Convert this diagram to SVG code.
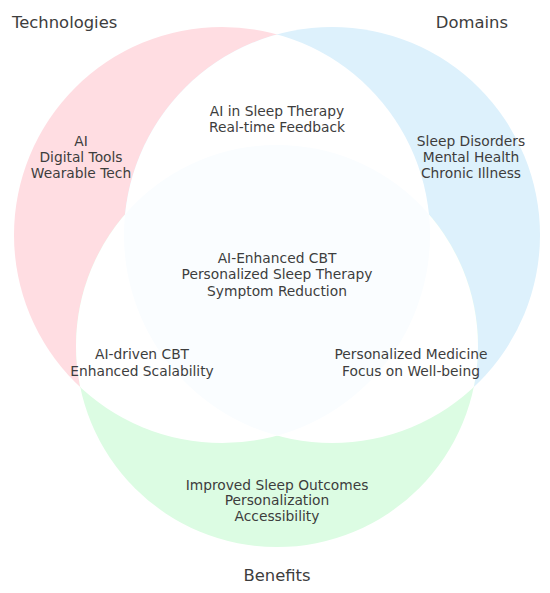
<svg xmlns="http://www.w3.org/2000/svg" width="550" height="593" viewBox="0 0 550 593">
<style>
text{font-family:"DejaVu Sans","Liberation Sans",sans-serif;fill:#3d3d3d;text-anchor:middle}
.lbl{font-size:13.8px}
.title{font-size:16.4px}
</style>
<defs>
<clipPath id="cL"><circle cx="222" cy="235" r="208"/></clipPath>
<clipPath id="cR"><circle cx="332" cy="235" r="208"/></clipPath>
<clipPath id="cB"><circle cx="277" cy="346" r="201"/></clipPath>
</defs>
<rect width="550" height="593" fill="#ffffff"/>
<g id="set-technologies">
<circle cx="222" cy="235" r="208" fill="#ffdde2"/>
</g>
<g id="set-domains">
<circle cx="332" cy="235" r="208" fill="#ddf1fc"/>
</g>
<g id="set-benefits">
<circle cx="277" cy="346" r="201" fill="#dcfce3"/>
</g>
<g id="overlaps">
<circle cx="332" cy="235" r="208" fill="#ffffff" clip-path="url(#cL)"/>
<circle cx="277" cy="346" r="201" fill="#ffffff" clip-path="url(#cL)"/>
<circle cx="277" cy="346" r="201" fill="#ffffff" clip-path="url(#cR)"/>
<g clip-path="url(#cL)"><circle cx="277" cy="346" r="201" fill="#fafdff" clip-path="url(#cR)"/></g>
</g>
<g id="connectors"></g>
<g id="titles">
<text class="title" x="12" y="28" style="text-anchor:start">Technologies</text>
<text class="title" x="508" y="28" style="text-anchor:end">Domains</text>
<text class="title" x="277" y="581">Benefits</text>
</g>
<g id="label-technologies">
<text class="lbl" x="81" y="146">AI</text>
<text class="lbl" x="81" y="162">Digital Tools</text>
<text class="lbl" x="81" y="178">Wearable Tech</text>
</g>
<g id="label-tech-domains">
<text class="lbl" x="277" y="116">AI in Sleep Therapy</text>
<text class="lbl" x="277" y="132">Real-time Feedback</text>
</g>
<g id="label-domains">
<text class="lbl" x="471" y="146">Sleep Disorders</text>
<text class="lbl" x="471" y="162">Mental Health</text>
<text class="lbl" x="471" y="178">Chronic Illness</text>
</g>
<g id="label-all">
<text class="lbl" x="277" y="263">AI-Enhanced CBT</text>
<text class="lbl" x="277" y="279">Personalized Sleep Therapy</text>
<text class="lbl" x="277" y="296">Symptom Reduction</text>
</g>
<g id="label-tech-benefits">
<text class="lbl" x="142" y="359">AI-driven CBT</text>
<text class="lbl" x="142" y="376">Enhanced Scalability</text>
</g>
<g id="label-domains-benefits">
<text class="lbl" x="411" y="359">Personalized Medicine</text>
<text class="lbl" x="411" y="376">Focus on Well-being</text>
</g>
<g id="label-benefits">
<text class="lbl" x="277" y="490">Improved Sleep Outcomes</text>
<text class="lbl" x="277" y="505">Personalization</text>
<text class="lbl" x="277" y="521">Accessibility</text>
</g>
</svg>
